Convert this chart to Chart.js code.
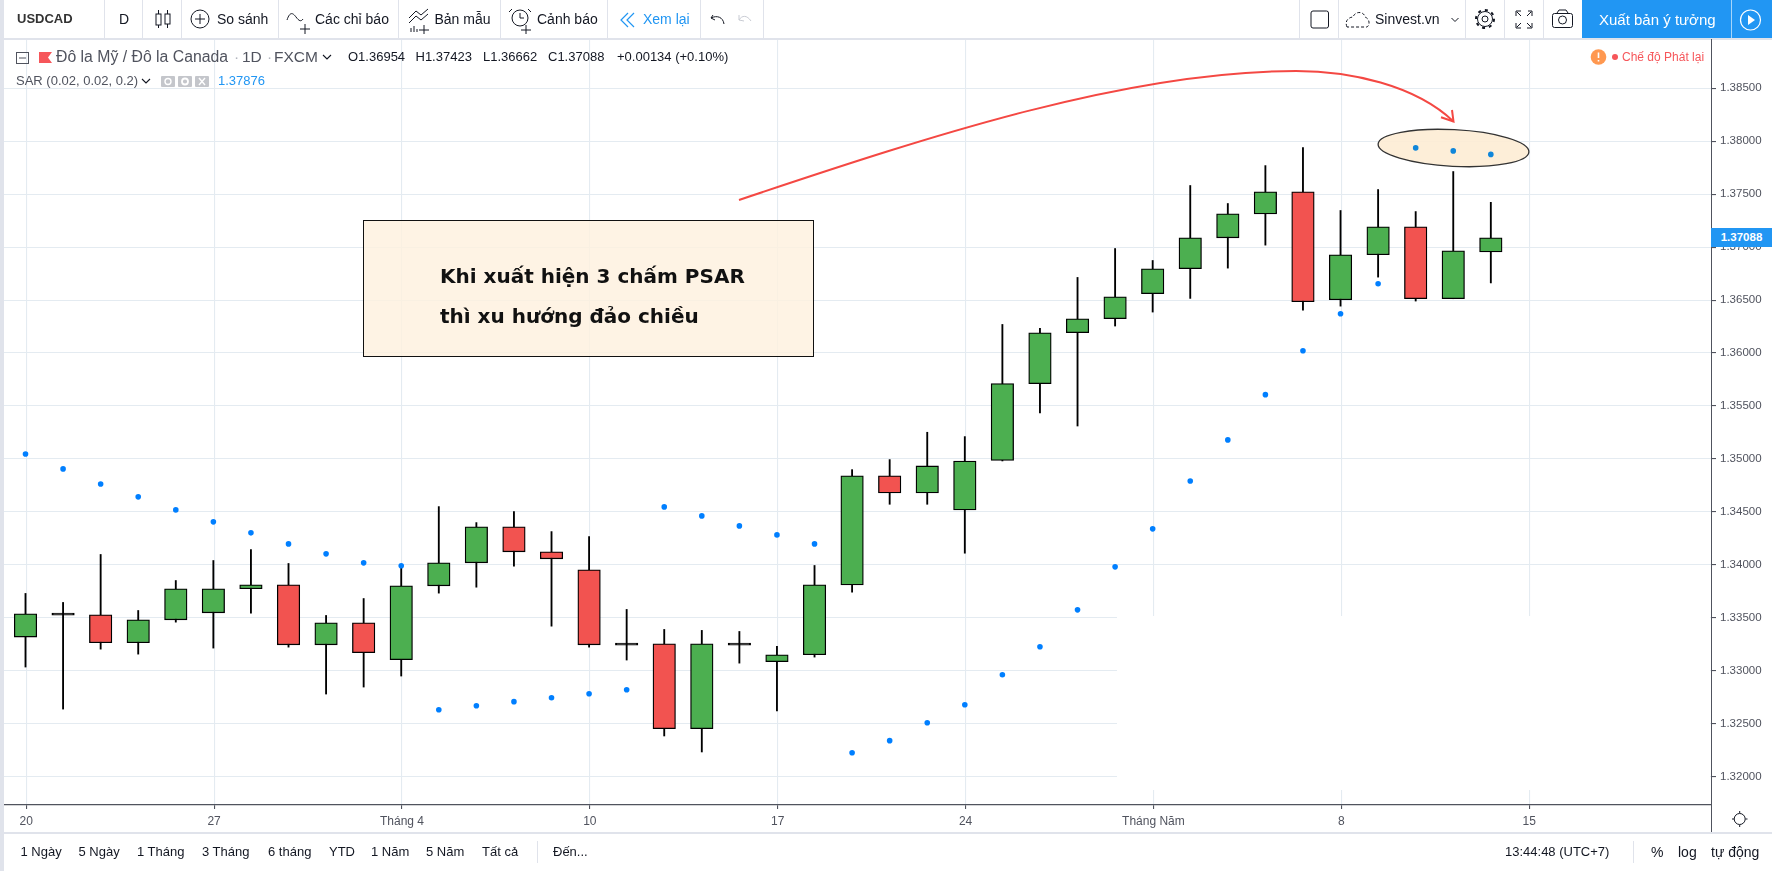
<!DOCTYPE html>
<html>
<head>
<meta charset="utf-8">
<title>USDCAD</title>
<script src="https://cdn.jsdelivr.net/npm/chart.js@4"></script>
<style>
  html, body { margin: 0; padding: 0; background: #fff; overflow: hidden; }
  #page { position: relative; width: 1772px; height: 871px; font-family: "Liberation Sans", Arial, sans-serif; color: #131722; }
  #page span.t { position: absolute; white-space: nowrap; line-height: 20px; }
  .strip { position: absolute; background: #e0e3eb; }
  #wrap { position: absolute; left: 4px; top: 39px; width: 1768px; height: 793px; }
  #note { position: absolute; left: 363px; top: 220px; width: 449px; height: 135px; border: 1.3px solid #111; background: rgba(254, 240, 222, 0.82);
          font: bold 20px "DejaVu Sans", sans-serif; color: #111; }
  #note div { position: absolute; left: 76px; line-height: 40px; white-space: nowrap; }
  #overlay { position: absolute; left: 0; top: 0; pointer-events: none; }
  #lastPrice { position: absolute; left: 1711px; width: 61px; height: 19px; background: #2196f3; color: #fff; font-size: 11.5px; font-weight: bold; line-height: 19px; text-align: center; }
  #publish { position: absolute; left: 1582px; top: 0; width: 190px; height: 38px; background: #2196f3; }
</style>
</head>
<body>
<div id="page">
  <div id="wrap"><canvas id="chart" width="1768" height="793"></canvas></div>

  <div class="strip" style="left:0;top:0;width:4px;height:871px"></div>
  <div class="strip" style="left:0;top:38px;width:1772px;height:1.5px"></div>
  <div class="strip" style="left:0;top:832px;width:1772px;height:1.5px"></div>
  <div style="position:absolute;left:1710.5px;top:39px;width:1px;height:793px;background:#50535e"></div>
  <div id="publish"></div>

  <svg id="overlay" width="1772" height="871" fill="none">
    <!-- arrow pointing at the three dots -->
    <path d="M739 200C939 133 1130 71 1296 71C1350 71 1415 85 1453.5 121.5" stroke="#f44843" stroke-width="2"/>
    <path d="M1441 117.3L1453.5 121.5L1452 110" stroke="#f44843" stroke-width="2"/>

    <!-- toolbar separators -->
    <g stroke="#e0e3eb">
      <path d="M104.5 0V38M142.5 0V38M181.5 0V38M278.5 0V38M398.5 0V38M500.5 0V38M607.5 0V38M700.5 0V38M763.5 0V38"/>
      <path d="M1299.5 0V38M1338.5 0V38M1465.5 0V38M1504.5 0V38M1543.5 0V38"/>
      <path d="M537.5 841V863M1633.5 841V863"/>
    </g>
    <path d="M1731.5 0V38" stroke="#fff" stroke-opacity=".6"/>

    <!-- toolbar icons -->
    <g stroke="#131722" stroke-width="1">
      <path d="M158.5 10V14M158.5 25V28M167.5 10V14M167.5 24V28"/>
      <rect x="156" y="14" width="5" height="11"/><rect x="165" y="14" width="5" height="10"/>
      <circle cx="200" cy="19" r="9"/><path d="M200 14V24M195 19H205"/>
      <path d="M287 20C290 11 293 13 296 17S301 22 303 19M305 24V34M300 29H310"/>
      <path d="M409 18L416 11L421 15L428 9M409 23L416 16L421 20L428 14M411 32V28M414 32V26M417 32V29M424 25V34M419 30H429"/>
      <circle cx="520" cy="18" r="8"/><path d="M520 13V18H524M512 9L509 12M528 9L531 12M526 25V34M521 30H531"/>
      <path d="M713 15L711 18L715 20M711 18C717 15 723 17 724 24"/>
      <circle cx="1485" cy="19" r="7.5"/><circle cx="1485" cy="19" r="9" stroke-width="2" stroke-dasharray="3 4"/><circle cx="1485" cy="19" r="3"/>
      <path d="M1516 16V11H1521M1528 11H1532V16M1516 23V28H1521M1532 23V28H1527M1517 12L1521 16M1531 12L1527 16M1517 27L1521 23M1531 27L1527 23"/>
      <rect x="1552.5" y="13.5" width="20" height="14" rx="2"/><path d="M1557 13L1559 10H1566L1568 13"/><circle cx="1562.5" cy="20" r="4"/>
      <rect x="1311" y="11" width="17.5" height="17" rx="2"/>
      <path d="M1347 27C1344 20 1350 17 1353 17C1355 11 1364 11 1365 17C1370 19 1370 25 1367 27Z" stroke-dasharray="3 2"/>
      <path d="M1451.5 18L1455 21.5L1458.5 18"/>
      <path d="M323 55L327 59L331 55M142 79L146 83L150 79" stroke-width="1.1"/>
    </g>
    <path d="M739 20C742 15 747 15 751 21M739 15L739 20L744 21" stroke="#c8cbd3"/>
    <path d="M628 13L621 20L628 27M634 13L627 20L634 27" stroke="#2196f3" stroke-width="1.2"/>
    <circle cx="1750.5" cy="20" r="10" stroke="#fff" stroke-width="1.2"/><path d="M1748 15V25L1755 20Z" fill="#fff"/>

    <!-- legend icons -->
    <rect x="16.5" y="52.5" width="12" height="11" stroke="#50535e"/><path d="M19 58H26" stroke="#50535e"/>
    <path d="M39 52H52L48 57.5L52 63H39Z" fill="#f6565a"/>
    <rect x="161" y="76" width="14" height="11" rx="1" fill="#c4c6cb"/><rect x="178" y="76" width="14" height="11" rx="1" fill="#c4c6cb"/><rect x="195" y="76" width="14" height="11" rx="1" fill="#c4c6cb"/>
    <circle cx="168" cy="81.5" r="3" stroke="#fff" stroke-width="1.4"/><circle cx="185" cy="81.5" r="3" stroke="#fff" stroke-width="1.8"/>
    <path d="M199 78L205 85M205 78L199 85" stroke="#fff" stroke-width="1.4"/>

    <!-- replay warning -->
    <circle cx="1598.5" cy="57" r="7.8" fill="#ff9850"/><path d="M1598.5 52.5V58M1598.5 60V61.5" stroke="#fff" stroke-width="1.6"/>
    <circle cx="1615" cy="57" r="3" fill="#f6565a"/>

    <!-- axis settings -->
    <circle cx="1739.7" cy="819" r="5.5" stroke="#131722"/><path d="M1739.7 811V813M1739.7 825V827M1732 819H1734M1745.5 819H1747.5" stroke="#131722"/>
  </svg>

  <div id="note">
    <div style="top:35px">Khi xuất hiện 3 chấm PSAR</div>
    <div style="top:75px">thì xu hướng đảo chiều</div>
  </div>
  <div id="lastPrice"></div>
</div>

<script>
// Candles, Mar 20 to May 12
const openVals = [1.33318, 1.33545, 1.33528, 1.33264, 1.33481, 1.33547, 1.33774, 1.33811, 1.33245, 1.33453,
  1.33104, 1.33802, 1.34019, 1.34359, 1.34123, 1.33953, 1.33262, 1.33255, 1.32453, 1.33262,
  1.33085, 1.33151, 1.33811, 1.34840, 1.34679, 1.34519, 1.34985, 1.35711, 1.36192, 1.36324,
  1.36560, 1.36796, 1.37088, 1.37314, 1.37522, 1.36503, 1.36928, 1.37192, 1.36513, 1.36954];
const highVals = [1.33730, 1.33645, 1.34098, 1.33569, 1.33852, 1.34041, 1.34145, 1.34013, 1.33522, 1.33682,
  1.33991, 1.34550, 1.34399, 1.34503, 1.34314, 1.34267, 1.33579, 1.33390, 1.33381, 1.33371,
  1.33230, 1.33994, 1.34899, 1.34994, 1.35252, 1.35211, 1.36270, 1.36233, 1.36714, 1.36987,
  1.36874, 1.37582, 1.37412, 1.37770, 1.37940, 1.37346, 1.37544, 1.37336, 1.37714, 1.37423];
const lowVals = [1.33035, 1.32638, 1.33204, 1.33157, 1.33459, 1.33214, 1.33544, 1.33223, 1.32780, 1.32846,
  1.32950, 1.33733, 1.33789, 1.33987, 1.33421, 1.33223, 1.33101, 1.32384, 1.32233, 1.33072,
  1.32620, 1.33129, 1.33742, 1.34572, 1.34572, 1.34110, 1.34981, 1.35434, 1.35311, 1.36255,
  1.36387, 1.36516, 1.36802, 1.37019, 1.36406, 1.36443, 1.36717, 1.36491, 1.36513, 1.36662];
const closeVals = [1.33538, 1.33525, 1.33264, 1.33481, 1.33774, 1.33774, 1.33811, 1.33245, 1.33453, 1.33170,
  1.33802, 1.34019, 1.34359, 1.34123, 1.34057, 1.33245, 1.33242, 1.32453, 1.33255, 1.33242,
  1.33151, 1.33811, 1.34840, 1.34679, 1.34934, 1.34981, 1.35711, 1.36192, 1.36324, 1.36531,
  1.36796, 1.37088, 1.37314, 1.37522, 1.36484, 1.36928, 1.37192, 1.36513, 1.36965, 1.37088];
// Parabolic SAR dots, one per candle
const sarVals = [1.35047, 1.34906, 1.34764, 1.34642, 1.34519, 1.34406, 1.34302, 1.34198, 1.34104, 1.34019,
  1.33991, 1.32632, 1.32670, 1.32708, 1.32745, 1.32783, 1.32821, 1.34547, 1.34462, 1.34368,
  1.34283, 1.34198, 1.32226, 1.32340, 1.32509, 1.32679, 1.32962, 1.33226, 1.33575, 1.33981,
  1.34340, 1.34792, 1.35180, 1.35607, 1.36022, 1.36371, 1.36654, 1.37937, 1.37909, 1.37876];

const xTickPos = [0, 5, 10, 15, 20, 25, 30, 35, 40];
const xTickLabels = ['20', '27', 'Tháng 4', '10', '17', '24', 'Tháng Năm', '8', '15'];
const yTicks = [1.385, 1.38, 1.375, 1.37, 1.365, 1.36, 1.355, 1.35, 1.345, 1.34, 1.335, 1.33, 1.325, 1.32];

const lastPrice = 1.37088;
const sarLast = '1.37876';

const upColor = '#4caf50';
const downColor = '#f25350';
const gridColor = '#e4ebf1';
const axisColor = '#50535e';

// Small helper for the toolbar and legend text
function addText(text, x, y, size, color, weight) {
  const el = document.createElement('span');
  el.className = 't';
  el.textContent = text;
  el.style.left = x + 'px';
  el.style.top = (y - 10) + 'px';
  el.style.fontSize = size + 'px';
  if (color) el.style.color = color;
  if (weight) el.style.fontWeight = weight;
  document.getElementById('page').appendChild(el);
}

// Top toolbar
addText('USDCAD', 17, 19, 13, '#333', 'bold');
addText('D', 119, 19, 14);
addText('So sánh', 217, 19, 14);
addText('Các chỉ báo', 315, 19, 14);
addText('Bản mẫu', 434.5, 19, 14);
addText('Cảnh báo', 537, 19, 14);
addText('Xem lại', 643, 19, 14, '#2196f3');
addText('Sinvest.vn', 1375, 19, 14);
addText('Xuất bản ý tưởng', 1599, 20, 15, '#fff');

// Legend rows
addText('Đô la Mỹ / Đô la Canada', 56, 57, 15.8, '#50535e');
addText('·', 234, 57, 15.5, '#b2b5be');
addText('1D', 242, 57, 15.5, '#50535e');
addText('·', 267, 57, 15.5, '#b2b5be');
addText('FXCM', 274, 57, 15.5, '#50535e');
addText('O1.36954', 348, 57, 13);
addText('H1.37423', 415.5, 57, 13);
addText('L1.36662', 483, 57, 13);
addText('C1.37088', 548, 57, 13);
addText('+0.00134 (+0.10%)', 617, 57, 13);
addText('SAR (0.02, 0.02, 0.2)', 16, 81, 13, '#50535e');
addText(sarLast, 218, 81, 13, '#2196f3');
addText('Chế độ Phát lại', 1622, 57, 12, '#f6565a');

// Bottom toolbar
addText('1 Ngày', 20.5, 852, 13);
addText('5 Ngày', 78.5, 852, 13);
addText('1 Tháng', 137, 852, 13);
addText('3 Tháng', 202, 852, 13);
addText('6 tháng', 268, 852, 13);
addText('YTD', 329, 852, 13);
addText('1 Năm', 371, 852, 13);
addText('5 Năm', 426, 852, 13);
addText('Tất cả', 482, 852, 13);
addText('Đến...', 553, 852, 13);
addText('13:44:48 (UTC+7)', 1505, 852, 13);
addText('%', 1651, 852, 14);
addText('log', 1678, 852, 14);
addText('tự động', 1711, 852, 14);

// Chart.js leaves a gap above the plot, pull the y axis up to the canvas top
const fillTop = {
  id: 'fillTop',
  afterLayout(chart) {
    const y = chart.scales.y;
    chart.chartArea.top = 0;
    chart.chartArea.height = chart.chartArea.bottom;
    y.top = 0;
    y.height = y.bottom;
    y.configure();
  }
};

// White patch where the picture has no grid, and the ellipse behind the three dots
const underMarks = {
  id: 'underMarks',
  beforeDatasetsDraw(chart) {
    const ctx = chart.ctx;
    ctx.save();
    ctx.fillStyle = '#fff';
    ctx.fillRect(1113, 577, 593, 174);
    ctx.beginPath();
    ctx.ellipse(1449.5, 109, 75.5, 18.3, 3 * Math.PI / 180, 0, Math.PI * 2);
    ctx.fillStyle = 'rgba(253, 236, 212, 0.9)';
    ctx.fill();
    ctx.strokeStyle = '#333';
    ctx.lineWidth = 1.3;
    ctx.stroke();
    ctx.restore();
  }
};

new Chart(document.getElementById('chart').getContext('2d'), {
  type: 'bar',
  data: {
    datasets: [
      {
        type: 'line',
        data: sarVals.map((v, i) => ({ x: i, y: v })),
        showLine: false,
        pointRadius: 2.8,
        pointBackgroundColor: sarVals.map((v, i) => (i >= 37 ? '#0f86da' : '#007fff')),
        pointBorderWidth: 0,
        order: 0
      },
      {
        data: openVals.map((o, i) => ({ x: i, y: [o, closeVals[i]] })),
        backgroundColor: openVals.map((o, i) => {
          if (Math.abs(closeVals[i] - o) < 0.00025) return '#000';
          return closeVals[i] >= o ? upColor : downColor;
        }),
        borderColor: '#000',
        borderWidth: 1.3,
        borderSkipped: false,
        barThickness: 22.5,
        grouped: false,
        order: 1
      },
      {
        data: lowVals.map((l, i) => ({ x: i, y: [l, highVals[i]] })),
        backgroundColor: '#000',
        barThickness: 1.2,
        grouped: false,
        order: 2
      }
    ]
  },
  options: {
    responsive: false,
    animation: false,
    layout: { padding: 0, autoPadding: false },
    plugins: { legend: { display: false }, tooltip: { enabled: false } },
    scales: {
      x: {
        type: 'linear',
        offset: false,
        min: -0.5723,
        max: 44.86,
        grid: { offset: false, color: gridColor, lineWidth: 1.1, tickColor: axisColor, tickLength: 4 },
        border: { color: axisColor, width: 1.3 },
        afterBuildTicks: s => { s.ticks = xTickPos.map(p => ({ value: p + 0.02 })); },
        afterFit: s => { s.height = 27; },
        ticks: {
          autoSkip: false,
          maxRotation: 0,
          includeBounds: false,
          padding: 5,
          color: axisColor,
          font: { family: '"Liberation Sans", Arial, sans-serif', size: 12 },
          callback: (v, i) => xTickLabels[i]
        }
      },
      y: {
        position: 'right',
        min: 1.317323,
        max: 1.389655,
        grid: { color: gridColor, lineWidth: 1.1, tickColor: axisColor, tickLength: 5 },
        border: { color: axisColor, width: 1 },
        afterBuildTicks: s => { s.ticks = yTicks.map(v => ({ value: v })); },
        afterFit: s => { s.width = 61; },
        ticks: {
          autoSkip: false,
          padding: 4,
          color: axisColor,
          font: { family: '"Liberation Sans", Arial, sans-serif', size: 11.5 },
          callback: v => v.toFixed(5)
        }
      }
    }
  },
  plugins: [fillTop, underMarks]
});

// Last price tag sits on the y axis
const chart = Chart.getChart('chart');
const tag = document.getElementById('lastPrice');
tag.textContent = lastPrice.toFixed(5);
tag.style.top = (39 + chart.scales.y.getPixelForValue(lastPrice) - 9.5) + 'px';
</script>
</body>
</html>
